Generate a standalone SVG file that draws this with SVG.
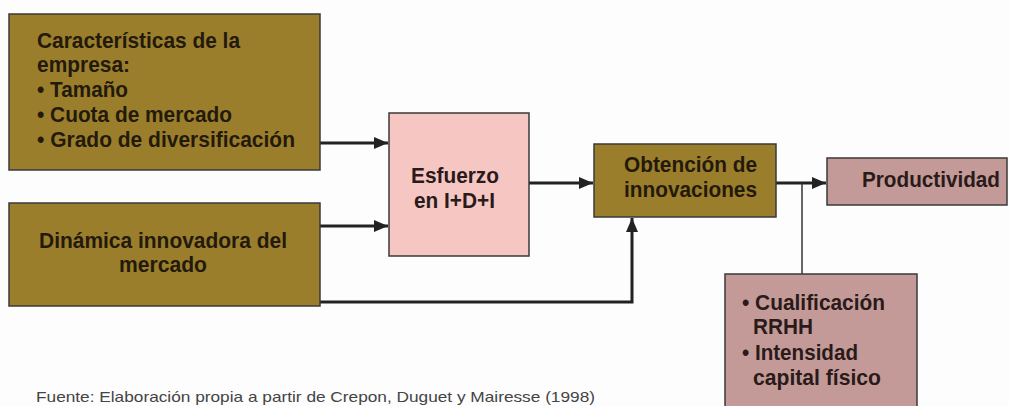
<svg xmlns="http://www.w3.org/2000/svg" width="1009" height="406" viewBox="0 0 1009 406">
<style>
.box{stroke:#3a3a3a;stroke-width:1.5}
.olive{fill:#9b7e2b}
.pink{fill:#f6c6c3}
.mauve{fill:#c39a97}
.t{font-family:"Liberation Sans",Arial,sans-serif;font-weight:bold;font-size:22px;fill:#231a0c}
.tp{font-family:"Liberation Sans",Arial,sans-serif;font-weight:bold;font-size:22px;fill:#2a1a1a}
.f{font-family:"Liberation Sans",Arial,sans-serif;font-size:15px;fill:#444}
.c{fill:none;stroke:#222;stroke-width:3}
.c2{fill:none;stroke:#333;stroke-width:1.5}
</style>
<defs>
<marker id="ah" markerWidth="14" markerHeight="12" refX="14" refY="6" orient="auto" markerUnits="userSpaceOnUse">
<path d="M0,0 L14,6 L0,12 Z" fill="#222"/>
</marker>
</defs>
<rect width="1009" height="406" fill="#fdfdfd"/>
<g id="connectors">
<path class="c" d="M320,143 H388" marker-end="url(#ah)"/>
<path class="c" d="M320,226 H388" marker-end="url(#ah)"/>
<path class="c" d="M529,183 H593" marker-end="url(#ah)"/>
<path class="c" d="M320,302 H632 V218" marker-end="url(#ah)"/>
<path class="c" d="M776,183 H826" marker-end="url(#ah)"/>
<path class="c2" d="M802,183 V274"/>
</g>
<g id="caracteristicas">
<rect class="box olive" x="9" y="14" width="311" height="156"/>
<text class="t" x="37" y="48" textLength="203" lengthAdjust="spacingAndGlyphs">Características de la</text>
<text class="t" x="37" y="72" textLength="93" lengthAdjust="spacingAndGlyphs">empresa:</text>
<text class="t" x="37" y="97" textLength="91" lengthAdjust="spacingAndGlyphs">• Tamaño</text>
<text class="t" x="37" y="122" textLength="195" lengthAdjust="spacingAndGlyphs">• Cuota de mercado</text>
<text class="t" x="37" y="147" textLength="258" lengthAdjust="spacingAndGlyphs">• Grado de diversificación</text>
</g>
<g id="dinamica">
<rect class="box olive" x="9" y="203" width="311" height="103"/>
<text class="t" x="39" y="248" textLength="248" lengthAdjust="spacingAndGlyphs">Dinámica innovadora del</text>
<text class="t" x="119" y="272" textLength="88" lengthAdjust="spacingAndGlyphs">mercado</text>
</g>
<g id="esfuerzo">
<rect class="box pink" x="389" y="113" width="140" height="143"/>
<text class="tp" x="411" y="183" textLength="88" lengthAdjust="spacingAndGlyphs">Esfuerzo</text>
<text class="tp" x="414" y="208" textLength="81" lengthAdjust="spacingAndGlyphs">en I+D+I</text>
</g>
<g id="obtencion">
<rect class="box olive" x="594" y="144" width="182" height="73"/>
<text class="t" x="624" y="172" textLength="133" lengthAdjust="spacingAndGlyphs">Obtención de</text>
<text class="t" x="624" y="197" textLength="133" lengthAdjust="spacingAndGlyphs">innovaciones</text>
</g>
<g id="productividad">
<rect class="box mauve" x="827" y="158" width="180" height="47"/>
<text class="tp" x="862" y="187" textLength="138" lengthAdjust="spacingAndGlyphs">Productividad</text>
</g>
<g id="cualificacion">
<rect class="box mauve" x="725" y="274" width="192" height="140"/>
<text class="tp" x="742" y="310" textLength="143" lengthAdjust="spacingAndGlyphs">• Cualificación</text>
<text class="tp" x="753" y="334" textLength="60" lengthAdjust="spacingAndGlyphs">RRHH</text>
<text class="tp" x="742" y="360" textLength="116" lengthAdjust="spacingAndGlyphs">• Intensidad</text>
<text class="tp" x="753" y="385" textLength="128" lengthAdjust="spacingAndGlyphs">capital físico</text>
</g>
<text class="f" x="36" y="402" textLength="559" lengthAdjust="spacingAndGlyphs">Fuente: Elaboración propia a partir de Crepon, Duguet y Mairesse (1998)</text>
</svg>
